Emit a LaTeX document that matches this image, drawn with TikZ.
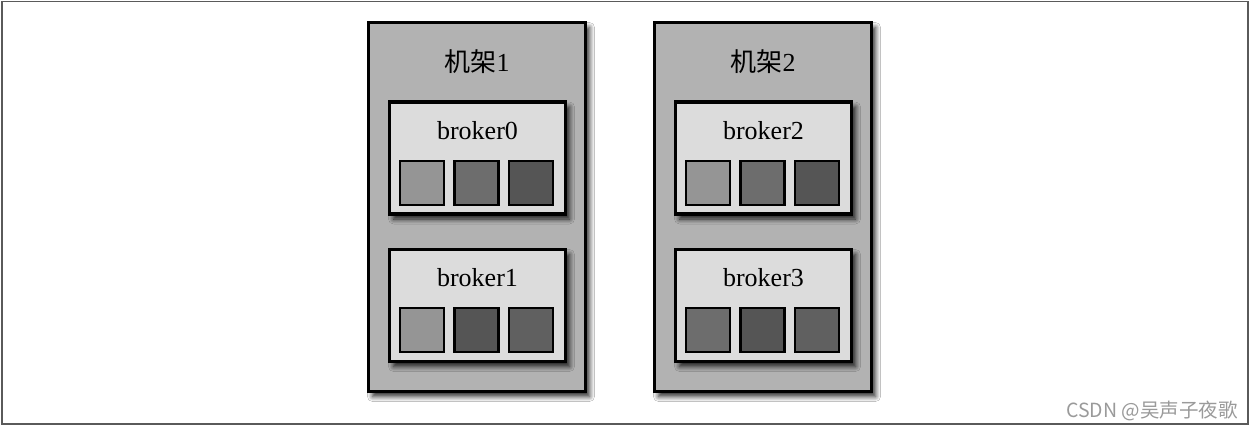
\documentclass[tikz,border=0pt]{standalone}
\usepackage{fontspec}
\setmainfont{Liberation Serif}
\newfontfamily\cjk{Noto Sans CJK SC}
\usetikzlibrary{shadows.blur}
\definecolor{rackfill}{HTML}{B2B2B2}
\definecolor{brokerfill}{HTML}{DCDCDC}
\definecolor{sqA}{HTML}{959595}
\definecolor{sqB}{HTML}{6D6D6D}
\definecolor{sqC}{HTML}{555555}
\definecolor{sqD}{HTML}{606060}
\definecolor{framecol}{HTML}{5A5A5A}
\definecolor{wmcol}{HTML}{9A9A9A}
\tikzset{
  rack/.style={draw=black, line width=3.2pt, fill=rackfill, minimum width=217pt, minimum height=369pt, inner sep=0pt,
    blur shadow={shadow xshift=4pt, shadow yshift=-5pt, shadow blur radius=5pt, shadow blur steps=8, shadow opacity=85}},
  broker/.style={draw=black, line width=3.2pt, fill=brokerfill, minimum width=176pt, minimum height=112pt, inner sep=0pt,
    blur shadow={shadow xshift=4pt, shadow yshift=-5pt, shadow blur radius=5pt, shadow blur steps=8, shadow opacity=85}},
  part/.style={draw=black, line width=2.8pt, minimum size=44pt, inner sep=0pt},
  lbl/.style={font=\fontsize{26}{28}\selectfont, inner sep=0pt},
}
\begin{document}
\begin{tikzpicture}[x=1pt,y=-1pt]
\useasboundingbox (0,0) rectangle (1252,430);
\fill[white] (0,0) rectangle (1252,430);
\draw[framecol, line width=1.8pt] (2,1.5) rectangle (1248,424);

% racks
\node[rack] (r1) at (477,207) {};
\node[rack] (r2) at (763,207) {};
\node[lbl] (r1t) at (477,62) {{\cjk 机架}1};
\node[lbl] (r2t) at (763,62) {{\cjk 机架}2};

% brokers
\node[broker] (b0) at (477.5,158) {};
\node[broker] (b1) at (477.5,305.5) {};
\node[broker] (b2) at (763.5,158) {};
\node[broker] (b3) at (763.5,305.5) {};
\node[lbl] (b0t) at (477.5,131) {broker0};
\node[lbl] (b1t) at (477.5,278) {broker1};
\node[lbl] (b2t) at (763.5,131) {broker2};
\node[lbl] (b3t) at (763.5,278) {broker3};

% partitions
\node[part, fill=sqA] (p00) at (422,183) {};
\node[part, fill=sqB] (p01) at (476.5,183) {};
\node[part, fill=sqC] (p02) at (531,183) {};
\node[part, fill=sqA] (p10) at (422,330) {};
\node[part, fill=sqC] (p11) at (476.5,330) {};
\node[part, fill=sqD] (p12) at (531,330) {};
\node[part, fill=sqA] (p20) at (708,183) {};
\node[part, fill=sqB] (p21) at (762.5,183) {};
\node[part, fill=sqC] (p22) at (817,183) {};
\node[part, fill=sqB] (p30) at (708,330) {};
\node[part, fill=sqC] (p31) at (762.5,330) {};
\node[part, fill=sqD] (p32) at (817,330) {};

% watermark
\node[anchor=east, text=wmcol, font=\cjk\fontsize{19.5}{21}\selectfont, inner sep=0pt] (wm) at (1238,411) {CSDN @吴声子夜歌};
\end{tikzpicture}
\end{document}
